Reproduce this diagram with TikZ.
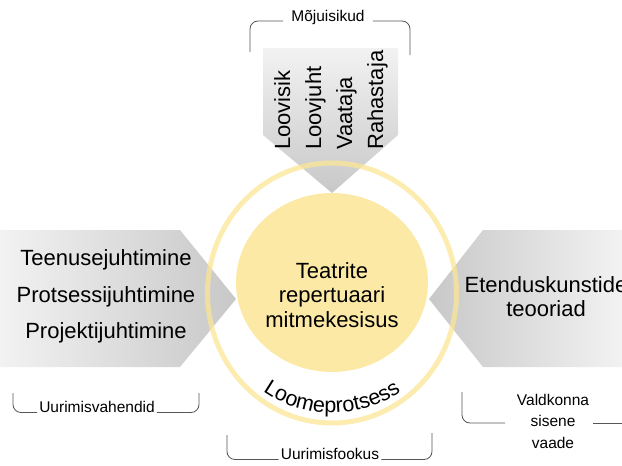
\documentclass[tikz,border=0pt]{standalone}
\usepackage{fontspec}
\setmainfont{Liberation Sans}
\usetikzlibrary{decorations.text}

\definecolor{arrowgray}{RGB}{200,200,200}
\definecolor{arrowlight}{RGB}{242,242,242}
\definecolor{corefill}{RGB}{252,233,166}
\definecolor{ringline}{RGB}{252,230,150}
\definecolor{bracketgray}{RGB}{85,85,85}

\tikzset{
  bigtext/.style={font=\fontsize{22}{24.5}\selectfont, inner sep=0pt},
  smalltext/.style={font=\fontsize{15.5}{21.5}\selectfont, inner sep=0pt, align=center},
  bracket/.style={draw=bracketgray, line width=0.8pt, rounded corners=8pt},
}

\begin{document}
\begin{tikzpicture}[x=1pt,y=1pt]
\useasboundingbox (0,0) rectangle (622,-466);
\clip (0,0) rectangle (622,-466);

% three grey chevrons pointing at the centre
\shade[top color=arrowlight, bottom color=arrowgray]
  (263,-48) -- (398,-48) -- (398,-135) -- (332,-193) -- (263,-135) -- cycle;
\shade[left color=arrowlight, right color=arrowgray]
  (0,-230) -- (180,-230) -- (236,-299) -- (180,-367) -- (0,-367) -- cycle;
\shade[left color=arrowgray, right color=arrowlight]
  (429,-299) -- (483,-230) -- (622,-230) -- (622,-367) -- (483,-367) -- cycle;

% outer ring and core
\draw[ringline, line width=5pt, opacity=0.75] (332,-293) ellipse [x radius=124.5, y radius=130];
\fill[corefill] (332,-282.5) ellipse [x radius=96, y radius=89.5];
\coordinate (core) at (332,-282.5);

% multi-line nodes are anchored at the baseline of their last line
\node[bigtext, align=center, anchor=base] (coretext) at (332,-327)
  {Teatrite\\repertuaari\\mitmekesisus};

% text bent along the lower part of the ring
\path[decorate, decoration={text along path, text align=center,
  text={|\fontsize{21.5}{24}\selectfont|Loomeprotsess}}]
  (212,-293) arc [start angle=180, end angle=360, radius=120];

% stakeholders in the top chevron
\node[bigtext, rotate=90, anchor=base west] (s1) at (290,-150) {Loovisik};
\node[bigtext, rotate=90, anchor=base west] (s2) at (321,-150) {Loovjuht};
\node[bigtext, rotate=90, anchor=base west] (s3) at (352,-150) {Vaataja};
\node[bigtext, rotate=90, anchor=base west] (s4) at (383,-150) {Rahastaja};

% methods in the left chevron
\node[bigtext, anchor=base] (m1) at (106,-265) {Teenusejuhtimine};
\node[bigtext, anchor=base] (m2) at (106,-302) {Protsessijuhtimine};
\node[bigtext, anchor=base] (m3) at (106,-338) {Projektijuhtimine};

% theory in the right chevron
\node[bigtext, align=center, anchor=base] (theory) at (546,-316.5)
  {Etenduskunstide\\teooriad};

% bracket captions
\node[smalltext, anchor=base] (cap1) at (328,-21) {Mõjuisikud};
\draw[bracket] (250,-52) |- ([xshift=-8pt]cap1.base west);
\draw[bracket] (410,-55) |- ([xshift=8pt]cap1.base east);

\node[smalltext, anchor=base] (cap2) at (97,-412.5) {Uurimisvahendid};
\draw[bracket] (13,-393) |- ([xshift=-2pt]cap2.base west);
\draw[bracket] (199,-393) |- ([xshift=2pt]cap2.base east);

\node[smalltext, anchor=base] (cap3) at (330,-459.5) {Uurimisfookus};
\draw[bracket] (227,-435) |- ([xshift=-2pt]cap3.base west);
\draw[bracket] (432,-433) |- ([xshift=2pt]cap3.base east);

\node[smalltext, anchor=base] (cap4) at (553,-448) {Valdkonna\\sisene\\vaade};
\coordinate (cap4gapL) at (505,-423);
\coordinate (cap4gapR) at (593,-423);
\draw[bracket] (462,-392) |- (cap4gapL);
\draw[bracket] (cap4gapR) -- (640,-423);
\end{tikzpicture}
\end{document}
